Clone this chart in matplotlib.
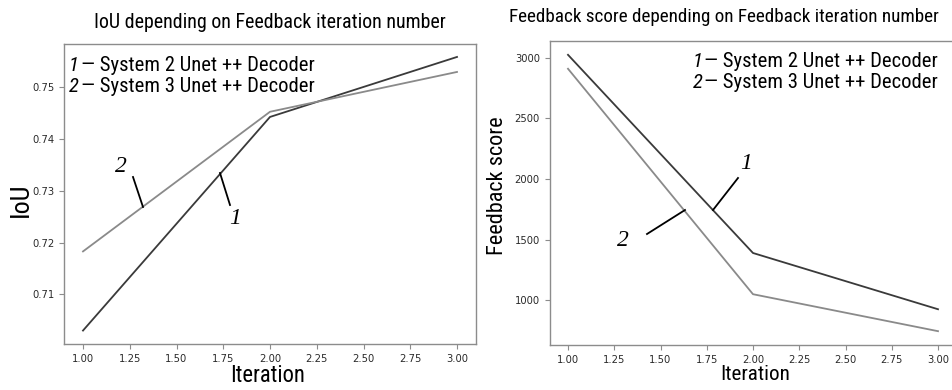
import matplotlib
matplotlib.use("Agg")
import matplotlib.pyplot as plt

iterations = [1, 2, 3]
iou_sys2 = [0.7030, 0.7443, 0.7559]
iou_sys3 = [0.7183, 0.7453, 0.7530]
fb_sys2 = [3025, 1390, 926]
fb_sys3 = [2910, 1050, 745]
iou_ticks = [0.71, 0.72, 0.73, 0.74, 0.75]
fb_ticks = [1000, 1500, 2000, 2500, 3000]
x_ticks = [1.00, 1.25, 1.50, 1.75, 2.00, 2.25, 2.50, 2.75, 3.00]
legend_names = ["System 2 Unet ++ Decoder", "System 3 Unet ++ Decoder"]

NARROW = ["Roboto Condensed", "DejaVu Sans"]
WT = 400
SERIF = ["Liberation Serif", "DejaVu Serif"]

W, H = 952, 390
fig = plt.figure(figsize=(W / 100, H / 100), dpi=100)
renderer = fig.canvas.get_renderer()


def fit(t, target, vertical=False):
    """Scale a text's font size so that it spans `target` pixels."""
    for _ in range(3):
        bb = t.get_window_extent(renderer)
        cur = bb.height if vertical else bb.width
        t.set_fontsize(t.get_fontsize() * target / cur)
    return t


def px_axes(l, t, r, b):
    return fig.add_axes([l / W, 1 - b / H, (r - l) / W, (b - t) / H])


ax1 = px_axes(64.3, 43.5, 475.7, 344)
ax2 = px_axes(549.5, 41, 956.5, 345)

C1 = "#3a3a3a"
C2 = "#8a8a8a"

for ax in (ax1, ax2):
    for s in ax.spines.values():
        s.set_color("#8c8c8c")
        s.set_linewidth(1.0)
    ax.tick_params(labelsize=7.2, colors="#8c8c8c", labelcolor="#2a2a2a", length=3.5, width=0.8)
    ax.set_xticks(x_ticks)
    ax.set_xticklabels([f"{t:.2f}" for t in x_ticks])

ax1.plot(iterations, iou_sys2, color=C1, lw=1.3)
ax1.plot(iterations, iou_sys3, color=C2, lw=1.3)
ax1.set_yticks(iou_ticks)
ax1.set_yticklabels([f"{t:.2f}" for t in iou_ticks])
ax1.set_xlim(0.9, 3.1)
ax1.set_ylim(0.7004, 0.7585)

ax2.plot(iterations, fb_sys2, color=C1, lw=1.3)
ax2.plot(iterations, fb_sys3, color=C2, lw=1.3)
ax2.set_yticks(fb_ticks)
ax2.set_yticklabels([str(t) for t in fb_ticks])
ax2.set_xlim(0.9, 3.1)
ax2.set_ylim(631, 3139)

# titles
fit(fig.text(270 / W, 1 - 23 / H, "IoU depending on Feedback iteration number",
             ha="center", va="center", family=NARROW, weight=WT, fontsize=13), 350)
fit(fig.text(724 / W, 1 - 17 / H, "Feedback score depending on Feedback iteration number",
             ha="center", va="center", family=NARROW, weight=WT, fontsize=13), 432)

# axis labels
fit(fig.text(268 / W, 1 - 376 / H, "Iteration", ha="center", va="center",
             family=NARROW, weight=WT, fontsize=15), 75)
fit(fig.text(755 / W, 1 - 375 / H, "Iteration", ha="center", va="center",
             family=NARROW, weight=WT, fontsize=15), 70)
fit(fig.text(21 / W, 1 - 200 / H, "IoU", ha="center", va="center", rotation=90,
             family=NARROW, weight=WT, fontsize=15), 34, vertical=True)
fit(fig.text(497 / W, 1 - 186 / H, "Feedback score", ha="center", va="center", rotation=90,
             family=NARROW, weight=WT, fontsize=15), 138, vertical=True)


# legends (text)
def legend(x_num, x_txt, baselines, width):
    for i, (name, yb) in enumerate(zip(legend_names, baselines)):
        t = fit(fig.text(x_txt / W, 1 - yb / H, "— " + name, ha="left", va="baseline",
                         family=NARROW, weight=WT, fontsize=14), width)
        fig.text(x_num / W, 1 - yb / H, str(i + 1), ha="left", va="baseline",
                 family=NARROW, weight=WT, style="italic", fontsize=t.get_fontsize())


legend(69, 81, [71, 92], 234)
legend(693, 704, [67, 88], 234)


# leader annotations
def leader(xy_px_from, xy_px_to, label, label_px):
    fig.add_artist(plt.Line2D([xy_px_from[0] / W, xy_px_to[0] / W],
                              [1 - xy_px_from[1] / H, 1 - xy_px_to[1] / H],
                              color="black", lw=1.3, transform=fig.transFigure))
    fig.text(label_px[0] / W, 1 - label_px[1] / H, label, ha="center", va="center",
             family=SERIF, style="italic", fontsize=17)


leader((133, 177), (143, 207), "2", (121, 166))
leader((220, 173), (230, 205), "1", (235, 219))
leader((713, 210), (738, 178), "1", (746, 163))
leader((647, 234), (685, 210), "2", (623, 241))

fig.savefig("out.png", dpi=100)
